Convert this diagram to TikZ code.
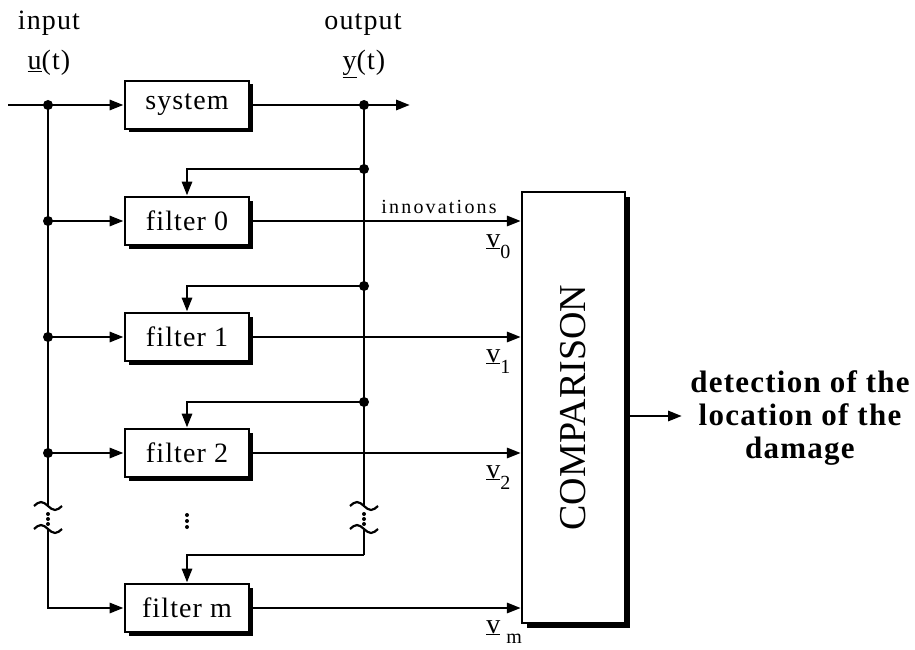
\documentclass[tikz,border=0pt]{standalone}
\usepackage{fontspec}
\setmainfont{Liberation Serif}
\newfontfamily\lblfont[LetterSpace=4]{Liberation Serif}
\newfontfamily\innfont[LetterSpace=11]{Liberation Serif}
\newfontfamily\bldfont[LetterSpace=4]{Liberation Serif}
\usetikzlibrary{arrows.meta,shadows}
\tikzset{
  blk/.style={draw, fill=white, minimum width=124pt, minimum height=48pt, inner sep=0pt,
    line width=2.8pt, general shadow={fill=black, shadow xshift=3.5pt, shadow yshift=-3.5pt},
    font=\lblfont\fontsize{28}{32}\selectfont},
  cmpbox/.style={draw, fill=white, minimum width=103pt, minimum height=431pt, inner sep=0pt,
    line width=2.2pt, general shadow={fill=black, shadow xshift=5pt, shadow yshift=-5pt}},
  jdot/.style={circle, fill, inner sep=0pt, minimum size=10pt},
  sdot/.style={circle, fill, inner sep=0pt, minimum size=4pt},
  lbl/.style={font=\lblfont\fontsize{28}{32}\selectfont, inner sep=0pt},
  brk/.pic={\draw[line width=2.2pt] (-14,0) sin (-7,-4) cos (0,0) sin (7,4) cos (14,0);}
}
\begin{document}
\begin{tikzpicture}[x=1pt,y=-1pt, line width=2.9pt, >={Triangle[length=14pt,width=10pt]}]
\useasboundingbox (0,0) rectangle (915,650);

% blocks
\node[blk] (sys) at (187,105) {system};
\node[blk] (f0) at (187,221) {filter 0};
\node[blk] (f1) at (187,337) {filter 1};
\node[blk] (f2) at (187,453) {filter 2};
\node[blk] (fm) at (187,608) {filter m};
\node[cmpbox] (cmp) at (573.5,407.5) {};
\node[rotate=90, font=\fontsize{38}{40}\selectfont, inner sep=0pt] (cmptxt) at (cmp.center) {COMPARISON};

% labels
\node[lbl, anchor=base] (inlbl) at (49,30) {input};
\node[lbl, anchor=base] (ulbl) at (49,70) {\underline{u}(t)};
\node[lbl, anchor=base] (outlbl) at (363,30) {output};
\node[lbl, anchor=base] (ylbl) at (364,70) {\underline{y}(t)};
\node[anchor=base, inner sep=0pt, font=\innfont\fontsize{20}{20}\selectfont] (inn) at (439,213) {innovations};
\node[lbl, anchor=base west] (v0) at (485,247) {\underline{v}\raisebox{-11pt}{\fontsize{20}{20}\selectfont 0}};
\node[lbl, anchor=base west] (v1) at (485,362) {\underline{v}\raisebox{-11pt}{\fontsize{20}{20}\selectfont 1}};
\node[lbl, anchor=base west] (v2) at (485,478) {\underline{v}\raisebox{-11pt}{\fontsize{20}{20}\selectfont 2}};
\node[lbl, anchor=base west] (vm) at (485,633) {\underline{v}\raisebox{-10pt}{\fontsize{20}{20}\selectfont\ m}};
\node[align=center, inner sep=0pt, font=\bldfont\bfseries\fontsize{31}{33}\selectfont] (det) at (800,418)
  {detection of the\\location of the\\damage};

% coordinates
\coordinate (start) at (8,105);
\coordinate (ui) at (48,105);
\coordinate (u0) at (48,221);
\coordinate (u1) at (48,337);
\coordinate (u2) at (48,453);
\coordinate (ubA) at (48,506);
\coordinate (ubB) at (48,529);
\coordinate (um) at (48,608);
\coordinate (yo) at (364,105);
\coordinate (outend) at (410,105);
\coordinate (y0) at (364,169);
\coordinate (y1) at (364,286);
\coordinate (y2) at (364,402);
\coordinate (ybA) at (364,506);
\coordinate (ybB) at (364,529);
\coordinate (ymc) at (364,555);
\coordinate (detin) at (682,416);

% input side
\draw[->] (start) -- (sys);
\draw (ui) -- (ubA);
\draw[->] (ubB) -- (um) -- (fm);
\draw[->] (u0) -- (f0);
\draw[->] (u1) -- (f1);
\draw[->] (u2) -- (f2);

% output side
\draw[->] (sys) -- (outend);
\draw (yo) -- (ybA);
\draw (ybB) -- (ymc);
\draw[->] (y0) -| (f0);
\draw[->] (y1) -| (f1);
\draw[->] (y2) -| (f2);
\draw[->] (ymc) -| (fm);

% innovations
\draw[->] (f0) -- (f0 -| cmp.west);
\draw[->] (f1) -- (f1 -| cmp.west);
\draw[->] (f2) -- (f2 -| cmp.west);
\draw[->] (fm) -- (fm -| cmp.west);
\draw[->] (cmp.east |- detin) -- (detin);

% junction dots
\foreach \p in {ui,u0,u1,u2,yo,y0,y1,y2} \node[jdot] at (\p) {};

% breaks
\pic at (ubA) {brk};
\pic at (ubB) {brk};
\pic at (ybA) {brk};
\pic at (ybB) {brk};
\foreach \d in {8,13,18} {
  \node[sdot] at ([yshift=-\d pt]ubA) {};
  \node[sdot] at ([yshift=-\d pt]ybA) {};
}
\foreach \yy in {515,521,527} \node[sdot] at (187,\yy) {};
\end{tikzpicture}
\end{document}
